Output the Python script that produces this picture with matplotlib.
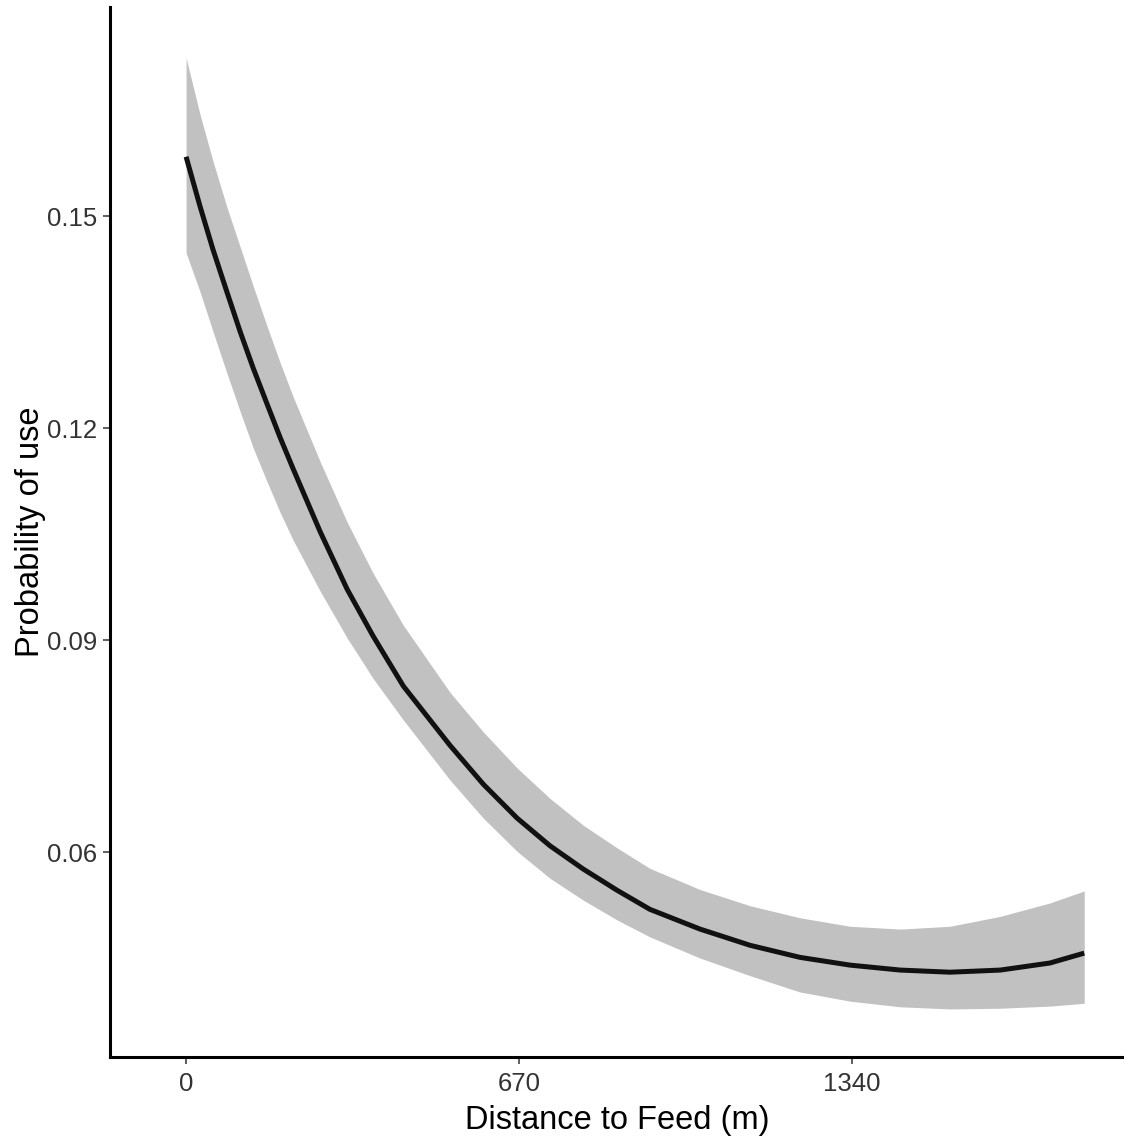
import matplotlib
matplotlib.use("Agg")
import matplotlib.pyplot as plt

# predicted probability of use vs distance to feed
distance = [0, 28, 54, 82, 109, 135, 163, 189, 215, 270, 324, 376, 437,
            531, 598, 666, 732, 799, 867, 933, 1034, 1135, 1235, 1336,
            1437, 1537, 1638, 1738, 1807]
prob = [0.1584, 0.1514, 0.1453, 0.1393, 0.1336, 0.1285, 0.1234, 0.1187,
        0.1143, 0.1053, 0.0972, 0.0906, 0.0835, 0.0751, 0.0696, 0.0648,
        0.0609, 0.0576, 0.0546, 0.0519, 0.0491, 0.0468, 0.0451, 0.0440,
        0.0433, 0.0430, 0.0433, 0.0443, 0.0457]
upper = [0.1724, 0.1644, 0.1578, 0.1513, 0.1456, 0.1401, 0.1344, 0.1293,
         0.1245, 0.1152, 0.1067, 0.0995, 0.0921, 0.0826, 0.0770, 0.0719,
         0.0676, 0.0638, 0.0606, 0.0577, 0.0547, 0.0524, 0.0507, 0.0495,
         0.0491, 0.0495, 0.0509, 0.0528, 0.0545]
lower = [0.1448, 0.1393, 0.1337, 0.1278, 0.1223, 0.1172, 0.1124, 0.1081,
         0.1042, 0.0969, 0.0903, 0.0846, 0.0787, 0.0702, 0.0648, 0.0601,
         0.0563, 0.0532, 0.0504, 0.0480, 0.0450, 0.0425, 0.0402, 0.0389,
         0.0381, 0.0378, 0.0379, 0.0382, 0.0386]

x_ticks = [0, 670, 1340]
y_ticks = [0.06, 0.09, 0.12, 0.15]

plt.rcParams['font.family'] = ['Liberation Sans', 'DejaVu Sans']

fig = plt.figure(figsize=(11.24, 11.39), dpi=100)
ax = fig.add_axes([0.0979, 0.0720, 0.9021, 0.9219])

ax.fill_between(distance, lower, upper, color='#c1c1c1', linewidth=0)
ax.plot(distance, prob, color='#111111', linewidth=3.6,
        solid_capstyle='butt', solid_joinstyle='round')

ax.set_xlim(-153, 1887)
ax.set_ylim(0.0310, 0.1796)
ax.set_xticks(x_ticks)
ax.set_xticklabels([str(v) for v in x_ticks])
ax.set_yticks(y_ticks)
ax.set_yticklabels([f"{v:.2f}" for v in y_ticks])

for side in ['top', 'right']:
    ax.spines[side].set_visible(False)
for side in ['left', 'bottom']:
    ax.spines[side].set_linewidth(2.2)
    ax.spines[side].set_color('black')

ax.tick_params(axis='both', length=5, width=1.1, color='#333333',
               labelsize=18.5, labelcolor='#333333')
ax.tick_params(axis='x', pad=6)
ax.tick_params(axis='y', pad=4)

ax.set_xlabel("Distance to Feed (m)", fontsize=23.5, color='black', labelpad=6)
ax.set_ylabel("Probability of use", fontsize=23.5, color='black', labelpad=1)

fig.savefig("out.png", dpi=100)
